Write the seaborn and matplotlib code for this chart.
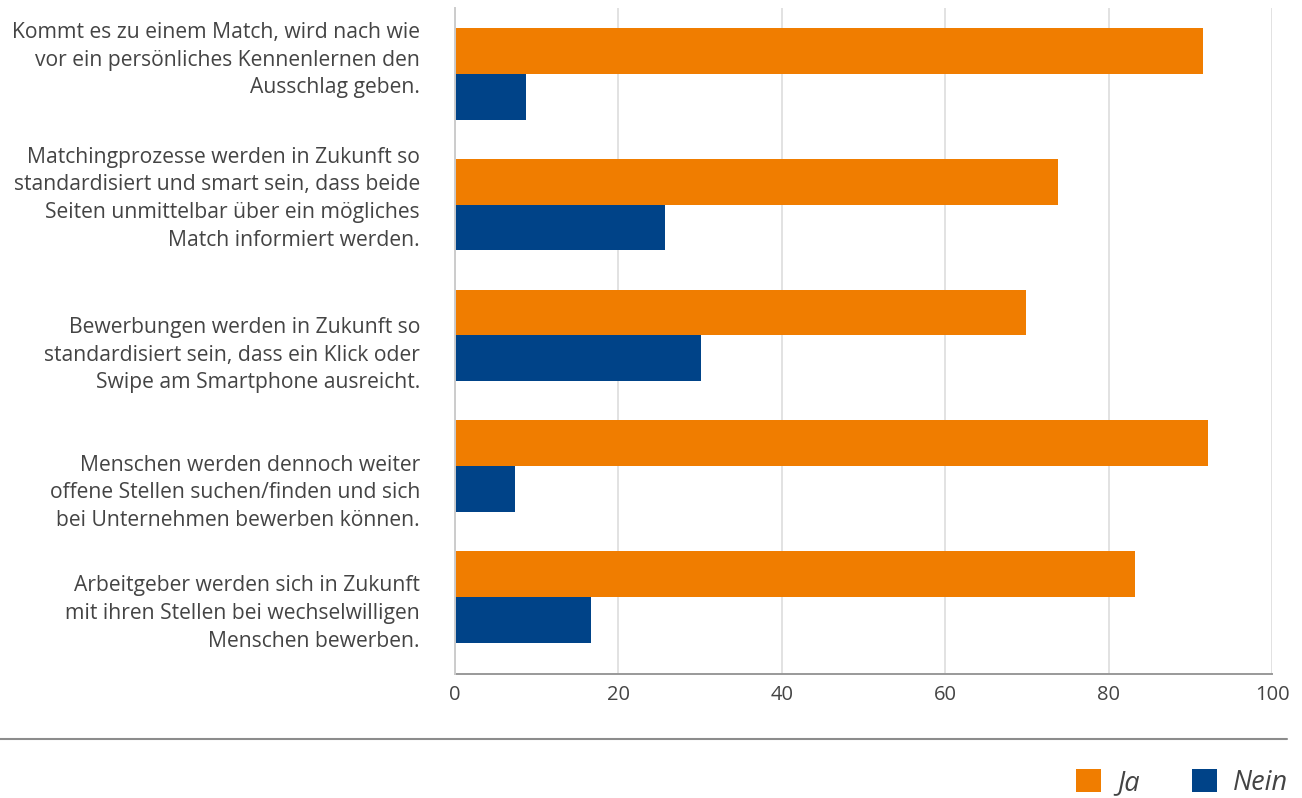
import matplotlib
matplotlib.use("Agg")
import matplotlib.pyplot as plt
from matplotlib.patches import Patch
from matplotlib.lines import Line2D
from matplotlib.transforms import blended_transform_factory
import seaborn as sns
import pandas as pd

# Survey statements (wrapped as shown on the axis) and answer shares in percent
statements = [
    "Kommt es zu einem Match, wird nach wie\nvor ein persönliches Kennenlernen den\nAusschlag geben.",
    "Matchingprozesse werden in Zukunft so\nstandardisiert und smart sein, dass beide\nSeiten unmittelbar über ein mögliches\nMatch informiert werden.",
    "Bewerbungen werden in Zukunft so\nstandardisiert sein, dass ein Klick oder\nSwipe am Smartphone ausreicht.",
    "Menschen werden dennoch weiter\noffene Stellen suchen/finden und sich\nbei Unternehmen bewerben können.",
    "Arbeitgeber werden sich in Zukunft\nmit ihren Stellen bei wechselwilligen\nMenschen bewerben.",
]
ja_values = [91.6, 73.8, 69.9, 92.2, 83.2]
nein_values = [8.7, 25.7, 30.1, 7.3, 16.6]
series_names = ["Ja", "Nein"]
x_ticks = [0, 20, 40, 60, 80, 100]

ORANGE = "#F07D00"
NAVY = "#004388"
TEXT = "#444444"

sns.set_theme(style="white")
plt.rcParams["font.family"] = ["Open Sans", "DejaVu Sans"]

df = pd.DataFrame({
    "statement": statements * 2,
    "answer": [series_names[0]] * len(statements) + [series_names[1]] * len(statements),
    "value": ja_values + nein_values,
})

fig = plt.figure(figsize=(13.02, 7.98), dpi=100)
W, H = 1302, 798
ax = fig.add_axes([455 / W, 1 - 674 / H, (1272 - 455) / W, (674 - 8) / H])

sns.barplot(
    data=df, y="statement", x="value", hue="answer", order=statements,
    hue_order=series_names, palette=[ORANGE, NAVY], orient="h",
    width=0.7, saturation=1, errorbar=None, legend=False, ax=ax, zorder=3,
    linewidth=0, edgecolor="none",
)

ax.set_xlim(0, 100)
ax.set_ylim(4.59, -0.505)
ax.set_xticks(x_ticks)
ax.set_xticklabels([str(t) for t in x_ticks])
ax.set_xlabel("")
ax.set_ylabel("")
ax.grid(axis="x", color="#dddddd", linewidth=1.2, zorder=0)
ax.grid(axis="y", visible=False)
ax.tick_params(axis="x", length=0, pad=8, labelsize=14.5, labelcolor=TEXT)
ax.tick_params(axis="y", length=0)
ax.set_yticklabels([])

for side in ("top", "right"):
    ax.spines[side].set_visible(False)
ax.spines["left"].set_color("#cccccc")
ax.spines["left"].set_linewidth(1.4)
ax.spines["left"].set_zorder(4)
ax.spines["bottom"].set_color("#999999")
ax.spines["bottom"].set_linewidth(1.4)

# Category labels, right-aligned beside the axis
label_shift = [-0.107, -0.045, 0.15, 0.205, 0.13]
trans = blended_transform_factory(fig.transFigure, ax.transData)
for i, (txt, dy) in enumerate(zip(statements, label_shift)):
    ax.text(420 / W, i + dy, txt, transform=trans, ha="right", va="center",
            fontsize=15.2, color=TEXT, linespacing=1.43)

# Separator line above the legend
fig.add_artist(Line2D([0, 1287 / W], [1 - 739 / H] * 2, color="#8c8c8c",
                      linewidth=1.5, transform=fig.transFigure))

handles = [Patch(facecolor=ORANGE, edgecolor="none"),
           Patch(facecolor=NAVY, edgecolor="none")]
leg = fig.legend(handles, series_names, loc="center right",
                 bbox_to_anchor=(1288 / W, 1 - 783 / H), ncol=2, frameon=False,
                 prop={"family": "Open Sans", "style": "italic", "size": 19.5},
                 handlelength=0.9, handleheight=0.9, handletextpad=0.6,
                 columnspacing=1.95, borderpad=0, borderaxespad=0)
for t in leg.get_texts():
    t.set_color(TEXT)

fig.savefig("out.png", dpi=100)
